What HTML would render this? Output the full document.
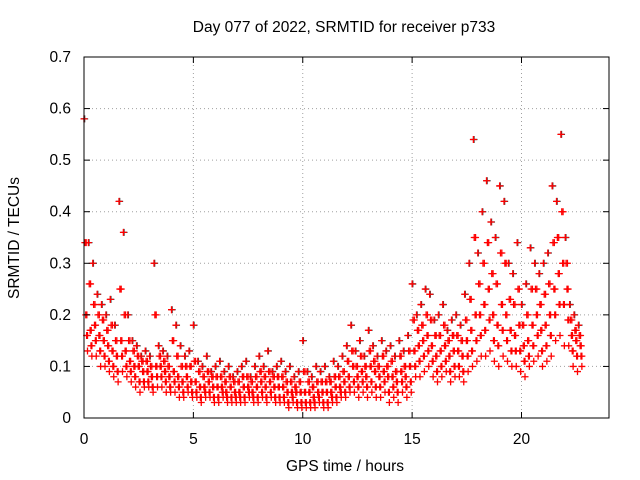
<!DOCTYPE html>
<html><head><meta charset="utf-8"><style>
body{margin:0;background:#fff}
svg{display:block;font-family:"Liberation Sans",sans-serif;font-size:15.5px}
</style></head><body>
<svg id="chart" width="640" height="480">
<rect width="640" height="480" fill="#fff"/>
<text x="344" y="32" text-anchor="middle">Day 077 of 2022, SRMTID for receiver p733</text>
<text x="345" y="471" text-anchor="middle">GPS time / hours</text>
<text transform="translate(19,238) rotate(-90)" text-anchor="middle">SRMTID / TECUs</text>
<g id="grid"></g>
<g id="marks"></g>
<rect x="84" y="57" width="525" height="361" fill="none" stroke="#000" stroke-width="1"/>
<g id="ticks"></g>
</svg>
<script>
const xTicks=[0,5,10,15,20];
const yTicks=[0,0.1,0.2,0.3,0.4,0.5,0.6,0.7];
const yTickLabels=["0","0.1","0.2","0.3","0.4","0.5","0.6","0.7"];
const step=0.2;
const high=[0.58,0.34,0.3,0.24,0.22,0.2,0.23,0.18,0.42,0.36,0.2,0.15,0.14,0.12,0.13,0.12,0.3,0.14,0.13,0.12,0.21,0.18,0.14,0.12,0.13,0.18,0.11,0.1,0.12,0.09,0.1,0.11,0.09,0.1,0.08,0.09,0.1,0.11,0.08,0.1,0.12,0.1,0.13,0.09,0.1,0.11,0.09,0.1,0.08,0.09,0.15,0.09,0.08,0.1,0.09,0.1,0.08,0.11,0.1,0.12,0.14,0.18,0.13,0.15,0.12,0.17,0.14,0.12,0.15,0.13,0.14,0.12,0.15,0.13,0.16,0.26,0.2,0.22,0.25,0.24,0.19,0.2,0.22,0.17,0.19,0.2,0.18,0.24,0.3,0.54,0.32,0.4,0.46,0.38,0.35,0.45,0.42,0.3,0.28,0.34,0.22,0.26,0.33,0.3,0.28,0.3,0.32,0.45,0.42,0.55,0.35,0.22,0.2,0.18];
const q3=[0.34,0.26,0.22,0.2,0.19,0.17,0.18,0.15,0.25,0.2,0.15,0.13,0.12,0.11,0.11,0.1,0.2,0.12,0.11,0.1,0.15,0.12,0.1,0.1,0.1,0.11,0.09,0.08,0.09,0.08,0.08,0.08,0.07,0.08,0.07,0.07,0.08,0.08,0.07,0.08,0.09,0.08,0.09,0.08,0.08,0.08,0.07,0.07,0.06,0.07,0.09,0.07,0.06,0.07,0.07,0.07,0.07,0.08,0.08,0.09,0.11,0.13,0.1,0.12,0.1,0.13,0.11,0.1,0.12,0.1,0.11,0.09,0.12,0.1,0.13,0.19,0.17,0.18,0.2,0.19,0.16,0.16,0.18,0.15,0.16,0.16,0.15,0.19,0.23,0.35,0.26,0.3,0.34,0.28,0.26,0.32,0.3,0.23,0.22,0.25,0.18,0.2,0.25,0.25,0.22,0.24,0.26,0.34,0.35,0.4,0.3,0.19,0.17,0.16];
const mid=[0.2,0.17,0.18,0.16,0.15,0.14,0.13,0.12,0.15,0.13,0.11,0.1,0.1,0.09,0.09,0.08,0.1,0.1,0.09,0.08,0.09,0.08,0.07,0.08,0.07,0.07,0.06,0.06,0.07,0.06,0.06,0.06,0.05,0.06,0.05,0.05,0.06,0.06,0.05,0.06,0.07,0.06,0.07,0.06,0.06,0.06,0.05,0.05,0.05,0.05,0.05,0.05,0.04,0.05,0.05,0.05,0.05,0.06,0.06,0.07,0.08,0.1,0.08,0.09,0.08,0.1,0.09,0.08,0.09,0.08,0.08,0.07,0.09,0.08,0.1,0.13,0.14,0.15,0.16,0.14,0.12,0.13,0.14,0.12,0.13,0.13,0.12,0.15,0.17,0.2,0.2,0.22,0.25,0.2,0.18,0.22,0.2,0.17,0.16,0.18,0.14,0.15,0.18,0.2,0.17,0.18,0.2,0.25,0.28,0.3,0.25,0.16,0.15,0.14];
const q1=[0.16,0.14,0.15,0.13,0.12,0.11,0.1,0.09,0.12,0.1,0.09,0.08,0.07,0.07,0.07,0.06,0.08,0.08,0.07,0.06,0.07,0.06,0.05,0.06,0.05,0.05,0.04,0.05,0.05,0.04,0.04,0.05,0.04,0.04,0.04,0.04,0.04,0.05,0.04,0.04,0.05,0.04,0.05,0.04,0.04,0.04,0.03,0.04,0.03,0.03,0.03,0.03,0.03,0.04,0.03,0.03,0.04,0.04,0.05,0.05,0.06,0.07,0.06,0.07,0.06,0.07,0.06,0.06,0.07,0.05,0.06,0.05,0.07,0.06,0.07,0.1,0.11,0.12,0.13,0.11,0.09,0.1,0.11,0.09,0.1,0.1,0.09,0.12,0.13,0.15,0.16,0.17,0.19,0.15,0.14,0.17,0.15,0.13,0.13,0.13,0.11,0.12,0.14,0.16,0.13,0.14,0.16,0.2,0.22,0.22,0.19,0.13,0.12,0.12];
const low=[0.13,0.12,0.12,0.1,0.1,0.09,0.08,0.07,0.09,0.08,0.07,0.06,0.05,0.06,0.06,0.05,0.06,0.06,0.05,0.05,0.05,0.04,0.04,0.05,0.04,0.04,0.03,0.04,0.04,0.03,0.03,0.04,0.03,0.03,0.03,0.03,0.03,0.04,0.03,0.03,0.04,0.03,0.04,0.03,0.03,0.03,0.02,0.03,0.02,0.02,0.02,0.02,0.02,0.03,0.02,0.02,0.03,0.03,0.04,0.04,0.05,0.05,0.04,0.05,0.04,0.05,0.04,0.04,0.05,0.03,0.04,0.03,0.05,0.04,0.05,0.08,0.08,0.09,0.1,0.08,0.07,0.08,0.09,0.07,0.08,0.08,0.07,0.09,0.1,0.11,0.12,0.12,0.13,0.11,0.1,0.12,0.11,0.1,0.1,0.09,0.08,0.1,0.11,0.12,0.1,0.11,0.12,0.15,0.16,0.14,0.14,0.1,0.09,0.1];
const X0=84,X1=609,Y0=418,Y1=57,XMAX=24,YMAX=0.7;
const xs=v=>X0+(X1-X0)*v/XMAX;
const ys=v=>Y0-(Y0-Y1)*v/YMAX;
const NS="http://www.w3.org/2000/svg";
const grid=document.getElementById('grid'),ticks=document.getElementById('ticks'),marks=document.getElementById('marks');
function mk(tag,attrs,parent){const e=document.createElementNS(NS,tag);for(const k in attrs)e.setAttribute(k,attrs[k]);parent.appendChild(e);return e;}
xTicks.forEach(v=>{
  const x=xs(v);
  if(v>0){const g=mk('line',{x1:x,x2:x,y1:Y0,y2:Y1,stroke:'#a0a0a0','stroke-dasharray':'1,3'},grid);
  
  }
  mk('line',{x1:x,x2:x,y1:Y0,y2:Y0-6,stroke:'#000'},ticks);
  mk('line',{x1:x,x2:x,y1:Y1,y2:Y1+6,stroke:'#000'},ticks);
  const t=mk('text',{x:x,y:444,'text-anchor':'middle'},ticks);t.textContent=v;
  
  
});
yTicks.forEach((v,i)=>{
  const y=ys(v);
  if(v>0&&v<0.7){const g=mk('line',{x1:X0,x2:X1,y1:y,y2:y,stroke:'#a0a0a0','stroke-dasharray':'1,3'},grid);
  
  }
  mk('line',{x1:X0,x2:X0+6,y1:y,y2:y,stroke:'#000'},ticks);
  mk('line',{x1:X1,x2:X1-6,y1:y,y2:y,stroke:'#000'},ticks);
  const t=mk('text',{x:71,y:y+5,'text-anchor':'end'},ticks);t.textContent=yTickLabels[i];
  
  
});
function plus(t,v,col){
  const x=xs(t),y=ys(v);
  const p=mk('path',{d:`M${x-3.5} ${y}H${x+3.5}M${x} ${y-3.5}V${y+3.5}`,stroke:col,'stroke-width':1.3,fill:'none'},marks);
  
  
}
high.forEach((v,i)=>plus(i*step+0.03,v,'#404040'));
[high,q3,mid,q1,low].forEach((series,k)=>{
  series.forEach((v,i)=>{plus(i*step+k*0.04,v,'#ff0000');});
});
[q3,mid,q1].forEach((series,k)=>{
  series.forEach((v,i)=>{plus(i*step+0.1+k*0.03,v,'#ff0000');});
});
</script>
</body></html>
